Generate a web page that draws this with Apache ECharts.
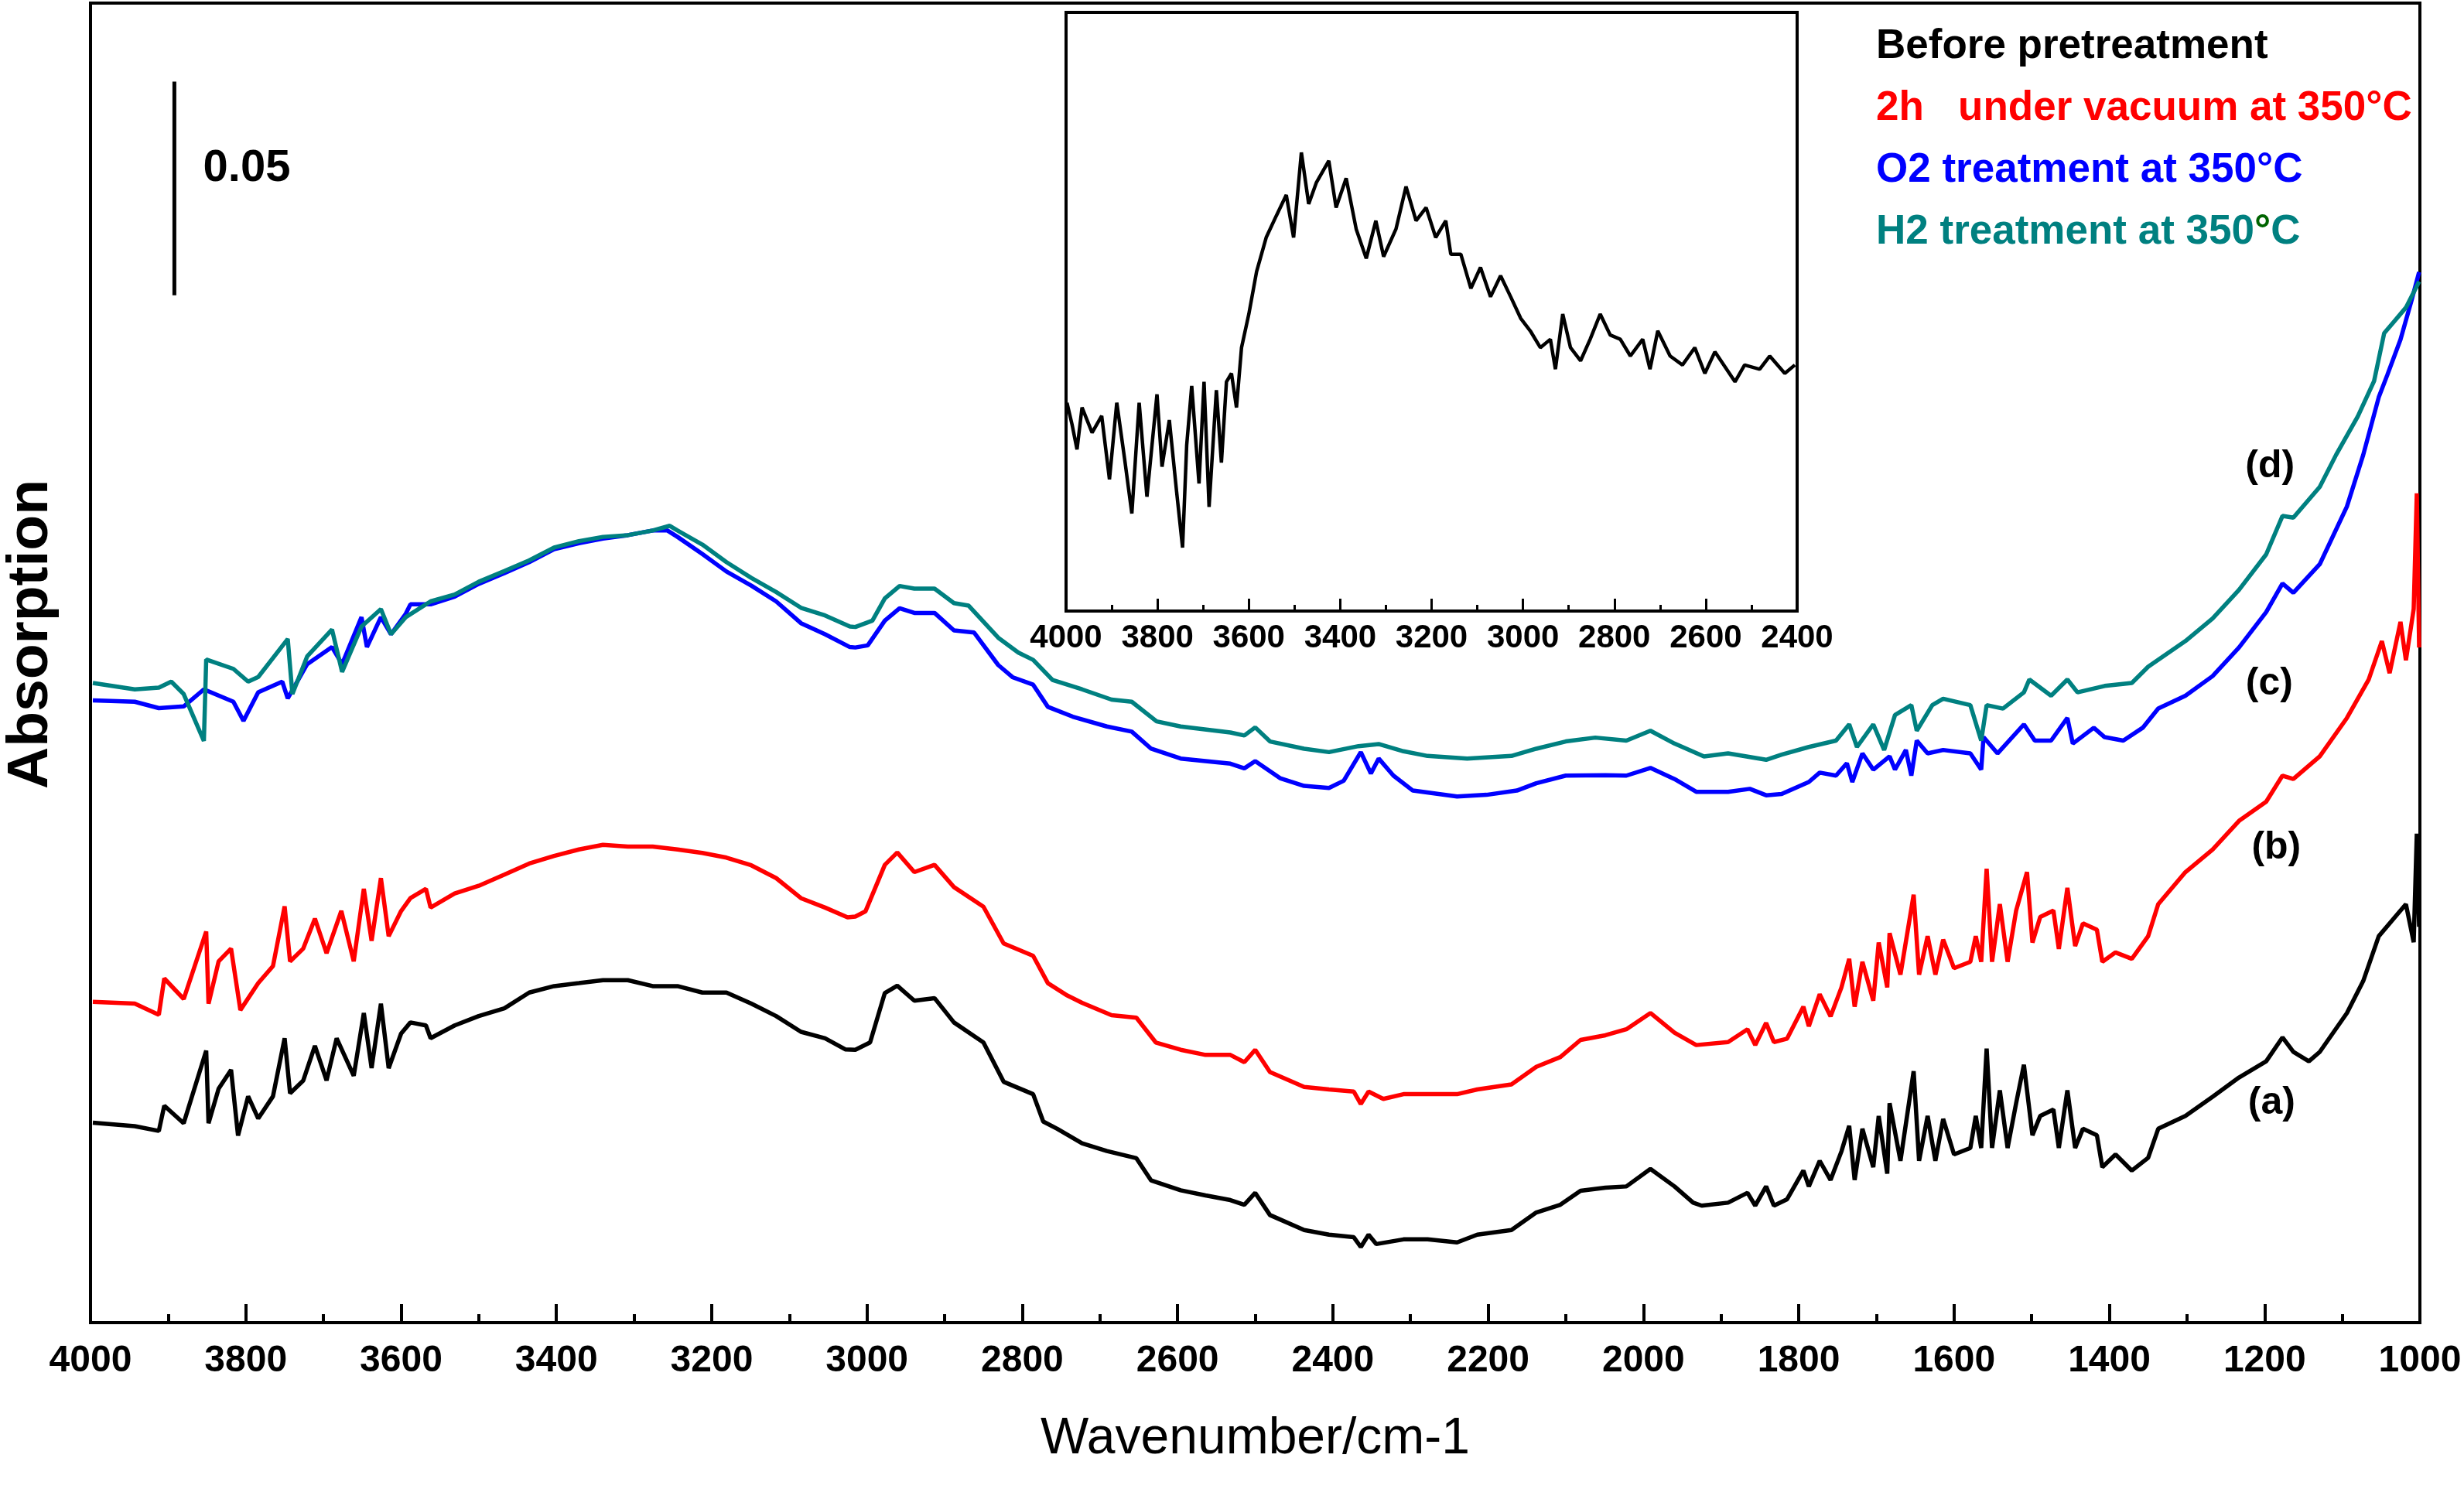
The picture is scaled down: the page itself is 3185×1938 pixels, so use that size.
<!DOCTYPE html>
<html>
<head>
<meta charset="utf-8">
<title>FTIR spectra</title>
<script src="https://cdn.jsdelivr.net/npm/echarts@6/dist/echarts.min.js"></script>
<style>
  html, body { margin: 0; padding: 0; background: #fff; }
  #chart { width: 3185px; height: 1938px; }
</style>
</head>
<body>
<div id="chart"></div>
<script>
  var FONT = '"Liberation Sans", Arial, sans-serif';

  // 曲线名称
  var names = [
    'Before pretreatment',
    '2h   under vacuum at 350°C',
    'O2 treatment at 350°C',
    'H2 treatment at 350°C'
  ];
  var colors = ['#000000', '#ff0000', '#0000ff', '#008080'];

  // (a) before pretreatment  [wavenumber, absorbance]
  var specA = [[3997,0.0468],[3943,0.0460],[3912,0.0449],[3905,0.0508],[3880,0.0467],[3851,0.0637],[3848,0.0467],[3835,0.0548],[3819,0.0592],[3810,0.0438],[3797,0.0530],[3784,0.0478],[3765,0.0530],[3750,0.0666],[3743,0.0537],[3726,0.0567],[3711,0.0648],[3696,0.0567],[3683,0.0666],[3661,0.0578],[3648,0.0725],[3638,0.0596],[3626,0.0747],[3616,0.0596],[3600,0.0677],[3588,0.0703],[3568,0.0696],[3562,0.0666],[3531,0.0696],[3500,0.0718],[3467,0.0736],[3435,0.0773],[3403,0.0788],[3371,0.0795],[3340,0.0802],[3308,0.0802],[3276,0.0788],[3244,0.0788],[3212,0.0773],[3181,0.0773],[3149,0.0747],[3117,0.0718],[3085,0.0681],[3054,0.0666],[3028,0.0640],[3015,0.0639],[2996,0.0656],[2977,0.0772],[2961,0.0789],[2939,0.0754],[2913,0.0760],[2888,0.0703],[2850,0.0656],[2824,0.0564],[2786,0.0535],[2773,0.0471],[2755,0.0454],[2723,0.0420],[2691,0.0402],[2653,0.0385],[2634,0.0333],[2596,0.0310],[2564,0.0298],[2532,0.0287],[2514,0.0276],[2500,0.0304],[2481,0.0252],[2437,0.0217],[2405,0.0206],[2373,0.0200],[2364,0.0177],[2354,0.0206],[2344,0.0184],[2309,0.0195],[2278,0.0195],[2240,0.0188],[2214,0.0206],[2170,0.0217],[2138,0.0258],[2107,0.0276],[2081,0.0309],[2049,0.0316],[2022,0.0319],[1991,0.0360],[1960,0.0319],[1936,0.0281],[1925,0.0274],[1891,0.0281],[1866,0.0304],[1856,0.0274],[1842,0.0319],[1832,0.0274],[1815,0.0289],[1794,0.0356],[1787,0.0319],[1773,0.0379],[1759,0.0334],[1745,0.0401],[1735,0.0461],[1728,0.0334],[1718,0.0454],[1704,0.0364],[1697,0.0484],[1686,0.0349],[1683,0.0514],[1669,0.0379],[1652,0.0589],[1645,0.0379],[1634,0.0484],[1624,0.0379],[1614,0.0477],[1600,0.0394],[1579,0.0409],[1572,0.0484],[1565,0.0409],[1558,0.0642],[1551,0.0409],[1541,0.0544],[1531,0.0409],[1520,0.0514],[1510,0.0604],[1499,0.0439],[1489,0.0484],[1472,0.0499],[1465,0.0409],[1454,0.0544],[1444,0.0409],[1434,0.0454],[1416,0.0439],[1409,0.0364],[1392,0.0394],[1371,0.0356],[1350,0.0386],[1337,0.0454],[1302,0.0484],[1267,0.0529],[1233,0.0574],[1198,0.0612],[1177,0.0668],[1163,0.0634],[1143,0.0612],[1129,0.0634],[1094,0.0725],[1073,0.0800],[1053,0.0905],[1032,0.0950],[1018,0.0980],[1008,0.0891],[1004,0.1145],[1001,0.0927]];

  // (b) 2h under vacuum
  var specB = [[3997,0.0751],[3943,0.0747],[3912,0.0721],[3905,0.0806],[3880,0.0758],[3851,0.0916],[3848,0.0747],[3835,0.0846],[3819,0.0876],[3807,0.0732],[3784,0.0795],[3765,0.0835],[3750,0.0975],[3743,0.0846],[3726,0.0876],[3711,0.0946],[3696,0.0865],[3677,0.0964],[3661,0.0846],[3648,0.1016],[3638,0.0894],[3626,0.1041],[3616,0.0905],[3600,0.0964],[3588,0.0994],[3568,0.1016],[3562,0.0972],[3531,0.1005],[3500,0.1023],[3467,0.1049],[3435,0.1075],[3403,0.1093],[3371,0.1108],[3340,0.1119],[3308,0.1115],[3276,0.1115],[3244,0.1108],[3212,0.1100],[3181,0.1089],[3149,0.1071],[3117,0.1041],[3085,0.0994],[3054,0.0972],[3025,0.0949],[3015,0.0951],[3002,0.0963],[2977,0.1072],[2961,0.1101],[2939,0.1055],[2913,0.1072],[2888,0.1020],[2850,0.0974],[2824,0.0888],[2786,0.0859],[2767,0.0795],[2742,0.0766],[2723,0.0749],[2685,0.0720],[2653,0.0714],[2628,0.0656],[2596,0.0639],[2564,0.0627],[2532,0.0627],[2514,0.0610],[2500,0.0639],[2481,0.0587],[2437,0.0552],[2405,0.0546],[2373,0.0541],[2364,0.0512],[2354,0.0541],[2335,0.0524],[2309,0.0535],[2278,0.0535],[2240,0.0535],[2214,0.0546],[2170,0.0558],[2138,0.0599],[2107,0.0622],[2081,0.0662],[2049,0.0673],[2022,0.0687],[1991,0.0725],[1960,0.0679],[1932,0.0650],[1891,0.0657],[1866,0.0687],[1856,0.0650],[1842,0.0702],[1832,0.0657],[1815,0.0665],[1794,0.0740],[1787,0.0694],[1773,0.0769],[1759,0.0717],[1745,0.0785],[1735,0.0852],[1728,0.0740],[1718,0.0845],[1704,0.0754],[1697,0.0890],[1686,0.0785],[1683,0.0912],[1669,0.0815],[1652,0.1002],[1645,0.0815],[1634,0.0905],[1624,0.0815],[1614,0.0897],[1600,0.0830],[1579,0.0845],[1572,0.0905],[1565,0.0845],[1558,0.1063],[1551,0.0845],[1541,0.0980],[1531,0.0845],[1520,0.0965],[1506,0.1055],[1499,0.0890],[1489,0.0950],[1472,0.0965],[1465,0.0875],[1454,0.1018],[1444,0.0882],[1434,0.0935],[1416,0.0920],[1409,0.0845],[1392,0.0867],[1371,0.0852],[1350,0.0905],[1337,0.0980],[1302,0.1055],[1267,0.1108],[1233,0.1175],[1198,0.1220],[1177,0.1281],[1163,0.1273],[1129,0.1326],[1094,0.1416],[1066,0.1506],[1049,0.1596],[1039,0.1521],[1025,0.1641],[1018,0.1551],[1008,0.1671],[1004,0.1942],[1001,0.1581]];

  // (c) O2 treatment
  var specC = [[3997,0.1457],[3943,0.1454],[3912,0.1439],[3880,0.1443],[3854,0.1483],[3816,0.1454],[3803,0.1409],[3784,0.1476],[3753,0.1501],[3746,0.1462],[3721,0.1542],[3689,0.1582],[3676,0.1542],[3651,0.1652],[3644,0.1582],[3626,0.1652],[3613,0.1612],[3594,0.1660],[3588,0.1682],[3562,0.1682],[3531,0.1700],[3500,0.1730],[3467,0.1755],[3435,0.1781],[3403,0.1811],[3371,0.1825],[3340,0.1836],[3308,0.1844],[3276,0.1855],[3257,0.1855],[3244,0.1840],[3212,0.1800],[3181,0.1759],[3149,0.1726],[3117,0.1689],[3085,0.1638],[3054,0.1612],[3022,0.1582],[3015,0.1581],[2999,0.1586],[2977,0.1644],[2958,0.1673],[2939,0.1662],[2913,0.1662],[2888,0.1621],[2862,0.1616],[2831,0.1540],[2812,0.1511],[2786,0.1494],[2767,0.1442],[2735,0.1419],[2691,0.1396],[2659,0.1384],[2634,0.1344],[2596,0.1321],[2532,0.1309],[2514,0.1298],[2500,0.1315],[2468,0.1275],[2437,0.1257],[2405,0.1252],[2386,0.1269],[2364,0.1336],[2351,0.1286],[2341,0.1321],[2322,0.1281],[2297,0.1246],[2240,0.1232],[2202,0.1236],[2163,0.1246],[2138,0.1263],[2100,0.1281],[2049,0.1282],[2022,0.1281],[1991,0.1299],[1960,0.1273],[1932,0.1243],[1891,0.1243],[1863,0.1250],[1842,0.1235],[1822,0.1238],[1787,0.1266],[1773,0.1288],[1752,0.1281],[1738,0.1310],[1731,0.1266],[1718,0.1333],[1704,0.1295],[1683,0.1326],[1676,0.1295],[1662,0.1341],[1655,0.1281],[1648,0.1363],[1634,0.1333],[1614,0.1341],[1579,0.1333],[1565,0.1295],[1562,0.1371],[1544,0.1333],[1510,0.1401],[1496,0.1363],[1475,0.1363],[1454,0.1416],[1447,0.1356],[1420,0.1393],[1406,0.1371],[1382,0.1363],[1357,0.1393],[1337,0.1438],[1302,0.1468],[1267,0.1514],[1233,0.1581],[1198,0.1664],[1177,0.1731],[1163,0.1709],[1129,0.1776],[1094,0.1911],[1073,0.2032],[1053,0.2167],[1042,0.2219],[1025,0.2302],[1011,0.2392],[1001,0.2460]];

  // (d) H2 treatment
  var specD = [[3997,0.1498],[3943,0.1483],[3912,0.1487],[3896,0.1501],[3880,0.1472],[3854,0.1362],[3851,0.1553],[3816,0.1531],[3797,0.1501],[3784,0.1512],[3746,0.1601],[3740,0.1472],[3721,0.1560],[3689,0.1623],[3676,0.1524],[3651,0.1630],[3626,0.1671],[3613,0.1612],[3594,0.1652],[3562,0.1689],[3531,0.1705],[3500,0.1735],[3467,0.1760],[3435,0.1785],[3403,0.1815],[3371,0.1830],[3340,0.1840],[3308,0.1844],[3276,0.1855],[3254,0.1866],[3244,0.1855],[3212,0.1822],[3181,0.1781],[3149,0.1744],[3117,0.1711],[3085,0.1674],[3054,0.1656],[3022,0.1630],[3015,0.1629],[2993,0.1644],[2977,0.1696],[2958,0.1725],[2939,0.1719],[2913,0.1719],[2888,0.1685],[2869,0.1679],[2831,0.1604],[2805,0.1569],[2786,0.1552],[2761,0.1505],[2723,0.1483],[2685,0.1459],[2659,0.1454],[2627,0.1408],[2596,0.1396],[2532,0.1382],[2514,0.1375],[2500,0.1394],[2481,0.1361],[2437,0.1344],[2405,0.1336],[2367,0.1350],[2341,0.1355],[2309,0.1338],[2278,0.1327],[2227,0.1321],[2170,0.1327],[2138,0.1344],[2100,0.1361],[2062,0.1370],[2022,0.1363],[1991,0.1386],[1960,0.1356],[1922,0.1326],[1891,0.1333],[1842,0.1318],[1822,0.1330],[1787,0.1348],[1752,0.1363],[1735,0.1401],[1725,0.1348],[1704,0.1401],[1690,0.1341],[1676,0.1423],[1655,0.1446],[1648,0.1386],[1628,0.1446],[1614,0.1461],[1579,0.1446],[1565,0.1363],[1558,0.1446],[1537,0.1438],[1510,0.1476],[1503,0.1506],[1475,0.1468],[1454,0.1506],[1441,0.1476],[1406,0.1491],[1371,0.1498],[1350,0.1536],[1302,0.1596],[1267,0.1649],[1233,0.1716],[1198,0.1799],[1177,0.1889],[1163,0.1885],[1129,0.1957],[1108,0.2032],[1080,0.2122],[1059,0.2205],[1046,0.2317],[1032,0.2347],[1018,0.2377],[1001,0.2438]];

  // 插图 (arbitrary units 0-100)
  var insetSpec = [[3998,34.8],[3987,31.2],[3976,27.0],[3965,34.0],[3943,29.8],[3922,32.6],[3905,22.0],[3889,34.8],[3872,25.5],[3856,16.3],[3840,34.8],[3823,19.1],[3801,36.2],[3790,24.1],[3774,31.9],[3758,19.9],[3745,10.6],[3736,27.7],[3725,37.6],[3709,21.3],[3698,38.3],[3687,17.4],[3671,36.9],[3660,24.8],[3649,38.3],[3638,39.7],[3627,34.0],[3616,44.0],[3600,49.6],[3583,56.7],[3562,62.4],[3540,66.0],[3518,69.5],[3502,62.4],[3485,76.6],[3469,68.0],[3452,71.6],[3425,75.2],[3409,67.4],[3387,72.3],[3365,63.8],[3343,58.9],[3322,65.2],[3305,59.2],[3278,63.8],[3256,70.9],[3234,65.2],[3212,67.4],[3191,62.4],[3169,65.2],[3158,59.6],[3136,59.6],[3114,53.9],[3093,57.4],[3071,52.5],[3049,56.0],[3027,52.5],[3005,48.9],[2984,46.8],[2962,44.0],[2940,45.4],[2929,40.4],[2913,49.6],[2896,44.0],[2874,41.8],[2853,45.4],[2831,49.6],[2809,46.1],[2787,45.4],[2765,42.6],[2738,45.4],[2722,40.4],[2705,46.8],[2678,42.6],[2651,41.1],[2624,44.0],[2602,39.7],[2580,43.3],[2536,38.3],[2515,41.1],[2482,40.4],[2460,42.6],[2427,39.7],[2405,41.1]];

  // 曲线标签 (a)-(d)
  var tagText = ['(a)', '(b)', '(c)', '(d)'];
  var tagWn = [1191, 1185, 1194, 1193];
  var tagAbs = [0.0514, 0.1111, 0.1495, 0.2005];

  // 0.05 标尺
  var barWn = 3892;
  var barAbs = [0.2406, 0.2906];
  var barText = '0.05';
  var barTextPos = [3855, 0.2703];

  var chart = echarts.init(document.getElementById('chart'));

  // 刻度数字不要千分位
  function plainNum(v) {
    return String(v);
  }

  var spectra = [specA, specB, specC, specD];
  var series = spectra.map(function(d, i) {
    return {
      name: names[i],
      type: 'line',
      data: d,
      showSymbol: false,
      symbol: 'none',
      color: colors[i],
      lineStyle: { color: colors[i], width: 5.5 },
      z: 2 + i
    };
  });

  series.push({
    name: 'inset',
    type: 'line',
    xAxisIndex: 1,
    yAxisIndex: 1,
    data: insetSpec,
    showSymbol: false,
    symbol: 'none',
    lineStyle: { color: '#000', width: 4.5 }
  });

  series.push({
    name: 'scale',
    type: 'line',
    data: [[barWn, barAbs[0]], [barWn, barAbs[1]]],
    showSymbol: false,
    symbol: 'none',
    lineStyle: { color: '#000', width: 5 }
  });

  series.push({
    name: 'scaleText',
    type: 'scatter',
    symbolSize: 0,
    itemStyle: { opacity: 1 },
    data: [{ name: barText, value: barTextPos }],
    label: {
      show: true,
      position: 'right',
      distance: 0,
      formatter: '{b}',
      color: '#000',
      textBorderWidth: 0,
      fontFamily: FONT,
      fontWeight: 'bold',
      fontSize: 58
    }
  });

  series.push({
    name: 'tags',
    type: 'scatter',
    symbolSize: 0,
    itemStyle: { opacity: 1 },
    data: tagText.map(function(t, i) {
      return { name: t, value: [tagWn[i], tagAbs[i]] };
    }),
    label: {
      show: true,
      position: 'inside',
      formatter: '{b}',
      color: '#000',
      textBorderWidth: 0,
      fontFamily: FONT,
      fontWeight: 'bold',
      fontSize: 50
    }
  });

  var option = {
    animation: false,
    backgroundColor: '#fff',
    textStyle: { fontFamily: FONT },
    legend: {
      data: names.map(function(n, i) {
        return { name: n, textStyle: { color: colors[i] } };
      }),
      orient: 'vertical',
      left: 2420,
      top: 30,
      padding: 0,
      icon: 'none',
      itemWidth: 0,
      itemHeight: 10,
      itemGap: 20,
      selectedMode: false,
      formatter: function(name) {
        return name === names[3] ? 'H2 treatment at 350{g|°}C' : name;
      },
      textStyle: {
        fontFamily: FONT,
        fontWeight: 'bold',
        fontSize: 53,
        lineHeight: 60,
        rich: {
          g: { color: '#006400', fontFamily: FONT, fontWeight: 'bold', fontSize: 53, lineHeight: 60 }
        }
      }
    },
    grid: [
      { left: 117, right: 57, top: 4, bottom: 228, show: true, borderColor: '#000', borderWidth: 4 },
      { left: 1378, top: 16, width: 945, height: 774, show: true, borderColor: '#000', borderWidth: 4 }
    ],
    xAxis: [
      {
        type: 'value',
        min: 1000,
        max: 4000,
        interval: 200,
        inverse: true,
        axisLine: { lineStyle: { color: '#000', width: 4 } },
        axisTick: { inside: true, length: 24, lineStyle: { color: '#000', width: 4 } },
        minorTick: { show: true, splitNumber: 2, length: 11, lineStyle: { color: '#000', width: 4 } },
        splitLine: { show: false },
        axisLabel: { color: '#000', fontFamily: FONT, fontWeight: 'bold', fontSize: 48, margin: 26, formatter: plainNum },
        name: 'Wavenumber/cm-1',
        nameLocation: 'middle',
        nameGap: 118,
        nameTextStyle: { color: '#000', fontFamily: FONT, fontSize: 66 }
      },
      {
        type: 'value',
        gridIndex: 1,
        min: 2400,
        max: 4000,
        interval: 200,
        inverse: true,
        axisLine: { lineStyle: { color: '#000', width: 4 } },
        axisTick: { inside: true, length: 16, lineStyle: { color: '#000', width: 3 } },
        minorTick: { show: true, splitNumber: 2, length: 8, lineStyle: { color: '#000', width: 3 } },
        splitLine: { show: false },
        axisLabel: { color: '#000', fontFamily: FONT, fontWeight: 'bold', fontSize: 42, margin: 14, formatter: plainNum }
      }
    ],
    yAxis: [
      {
        type: 'value',
        min: 0,
        max: 0.309,
        axisLine: { show: true, lineStyle: { color: '#000', width: 4 } },
        axisTick: { show: false },
        axisLabel: { show: false },
        splitLine: { show: false }
      },
      {
        type: 'value',
        gridIndex: 1,
        min: 0,
        max: 100,
        show: false,
        splitLine: { show: false }
      }
    ],
    graphic: [
      {
        type: 'text',
        x: 40,
        y: 820,
        rotation: Math.PI / 2,
        style: {
          text: 'Absorption',
          fill: '#000',
          font: 'bold 75px ' + FONT,
          textAlign: 'center',
          textVerticalAlign: 'middle'
        }
      }
    ],
    series: series
  };

  chart.setOption(option);
</script>
</body>
</html>
